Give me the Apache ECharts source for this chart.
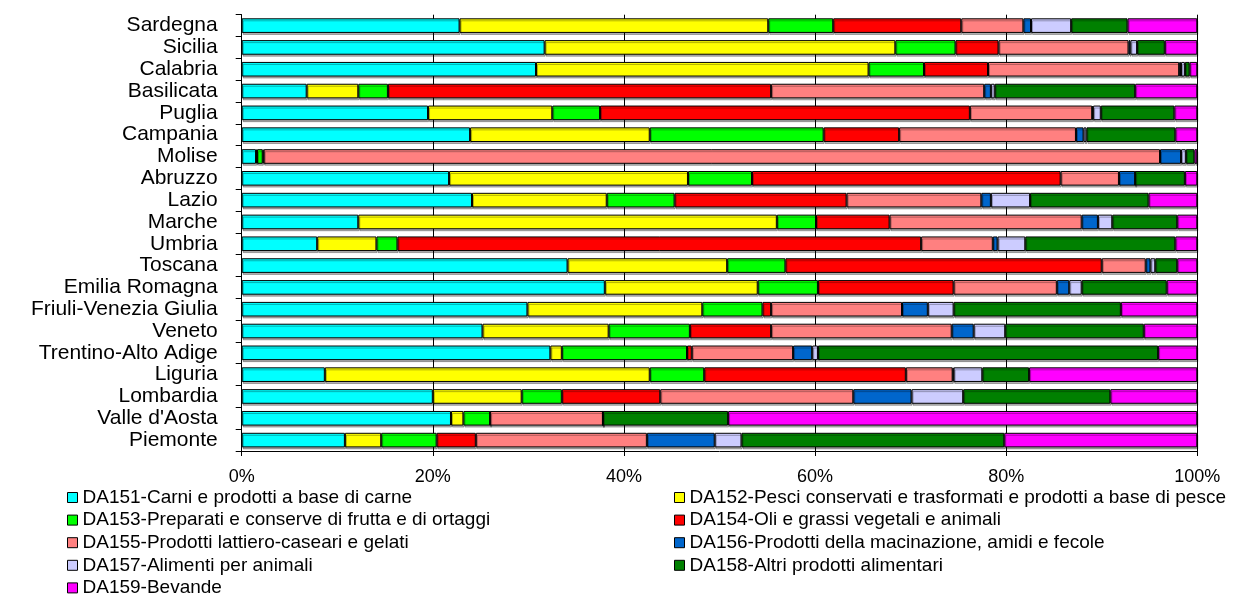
<!DOCTYPE html>
<html>
<head>
<meta charset="utf-8">
<script src="https://cdn.jsdelivr.net/npm/echarts@6/dist/echarts.min.js"></script>
<style>
  html, body { margin: 0; padding: 0; background: #fff; }
  #chart { width: 1238px; height: 594px; }
</style>
</head>
<body>
<div id="chart"></div>
<script>
// Regions, listed top to bottom
const regions = ['Sardegna', 'Sicilia', 'Calabria', 'Basilicata', 'Puglia', 'Campania', 'Molise',
  'Abruzzo', 'Lazio', 'Marche', 'Umbria', 'Toscana', 'Emilia Romagna', 'Friuli-Venezia Giulia',
  'Veneto', 'Trentino-Alto Adige', 'Liguria', 'Lombardia', "Valle d'Aosta", 'Piemonte'];

// Share (%) of each food-industry sector per region
const da151 = [22.8, 31.7, 30.8, 6.8, 19.5, 23.9, 1.5, 21.7, 24.1, 12.2, 7.9, 34.1, 38.0, 29.9, 25.2, 32.3, 8.7, 20.0, 21.9, 10.8];
const da152 = [32.3, 36.7, 34.8, 5.4, 13.0, 18.8, 0.1, 25.0, 14.1, 43.8, 6.2, 16.7, 16.0, 18.3, 13.2, 1.2, 34.0, 9.3, 1.3, 3.8];
const da153 = [6.8, 6.3, 5.8, 3.1, 5.0, 18.2, 0.6, 6.7, 7.1, 4.1, 2.2, 6.1, 6.3, 6.3, 8.5, 13.1, 5.7, 4.2, 2.8, 5.8];
const da154 = [13.4, 4.5, 6.7, 40.1, 38.7, 7.9, 0.1, 32.3, 18.0, 7.7, 54.8, 33.1, 14.2, 0.9, 8.5, 0.5, 21.1, 10.3, 0, 4.1];
const da155 = [6.5, 13.6, 20.0, 22.3, 12.8, 18.5, 93.8, 6.1, 14.1, 20.1, 7.5, 4.6, 10.8, 13.7, 18.9, 10.6, 4.9, 20.2, 11.8, 17.9];
const da156 = [0.8, 0.2, 0.2, 0.7, 0.1, 0.8, 2.2, 1.7, 1.0, 1.7, 0.5, 0.5, 1.3, 2.7, 2.3, 2.0, 0.1, 6.1, 0, 7.1];
const da157 = [4.2, 0.7, 0.4, 0.4, 0.8, 0.3, 0.5, 0, 4.1, 1.5, 2.9, 0.5, 1.3, 2.7, 3.3, 0.6, 3.0, 5.4, 0, 2.8];
const da158 = [5.9, 2.9, 0.5, 14.7, 7.7, 9.3, 0.9, 5.2, 12.4, 6.8, 15.7, 2.3, 8.9, 17.5, 14.5, 35.6, 4.9, 15.4, 13.1, 27.5];
const da159 = [7.3, 3.4, 0.8, 6.5, 2.4, 2.3, 0.3, 1.3, 5.1, 2.1, 2.3, 2.1, 3.2, 8.0, 5.6, 4.1, 17.6, 9.1, 49.1, 20.2];

const seriesNames = [
  'DA151-Carni e prodotti a base di carne',
  'DA152-Pesci conservati e trasformati e prodotti a base di pesce',
  'DA153-Preparati e conserve di frutta e di ortaggi',
  'DA154-Oli e grassi vegetali e animali',
  'DA155-Prodotti lattiero-caseari e gelati',
  'DA156-Prodotti della macinazione, amidi e fecole',
  'DA157-Alimenti per animali',
  'DA158-Altri prodotti alimentari',
  'DA159-Bevande'
];
const seriesData = [da151, da152, da153, da154, da155, da156, da157, da158, da159];
const colors = ['#00FFFF', '#FFFF00', '#00FF00', '#FF0000', '#FF8080', '#0066CC', '#CCCCFF', '#008000', '#FF00FF'];

const FONT = "'Liberation Sans', Arial, sans-serif";

const chart = echarts.init(document.getElementById('chart'), null, { renderer: 'canvas' });

// Two-column legend: odd codes on the left, even codes on the right
const legendCommon = {
  orient: 'vertical',
  top: 488,
  height: 120,
  padding: 0,
  icon: 'rect',
  itemWidth: 10,
  itemHeight: 10,
  itemGap: 3.6,
  itemStyle: { borderColor: '#000', borderWidth: 1 },
  textStyle: { fontFamily: FONT, fontSize: 19, color: '#000', lineHeight: 18 },
  selectedMode: false
};

chart.setOption({
  animation: false,
  color: colors,
  textStyle: { fontFamily: FONT },
  grid: { left: 241.7, right: 40.7, top: 14.7, bottom: 143, containLabel: false },
  legend: [
    Object.assign({ left: 67, data: [seriesNames[0], seriesNames[2], seriesNames[4], seriesNames[6], seriesNames[8]] }, legendCommon),
    Object.assign({ left: 674, data: [seriesNames[1], seriesNames[3], seriesNames[5], seriesNames[7]] }, legendCommon)
  ],
  xAxis: {
    type: 'value',
    min: 0,
    max: 100,
    interval: 20,
    axisLine: { show: true, lineStyle: { color: '#000', width: 1 } },
    axisTick: { show: true, length: 5, lineStyle: { color: '#000' } },
    axisLabel: { formatter: '{value}%', color: '#000', fontSize: 18, fontFamily: FONT, margin: 17 },
    splitLine: { show: true, lineStyle: { color: '#000', width: 1 } }
  },
  yAxis: {
    type: 'category',
    inverse: true,
    data: regions,
    axisLine: { show: true, lineStyle: { color: '#000', width: 1 } },
    axisTick: { show: true, length: 6, lineStyle: { color: '#000' } },
    axisLabel: { interval: 0, color: '#000', fontSize: 21, fontFamily: FONT, margin: 24 },
    splitLine: { show: false }
  },
  series: seriesNames.map((name, i) => ({
    name: name,
    type: 'bar',
    stack: 'total',
    barCategoryGap: '33%',
    data: seriesData[i],
    itemStyle: {
      color: colors[i],
      borderColor: '#000',
      borderWidth: 1,
      shadowColor: 'rgba(0,0,0,0.3)',
      shadowOffsetX: 1,
      shadowOffsetY: 2,
      shadowBlur: 0
    }
  }))
});
</script>
</body>
</html>
